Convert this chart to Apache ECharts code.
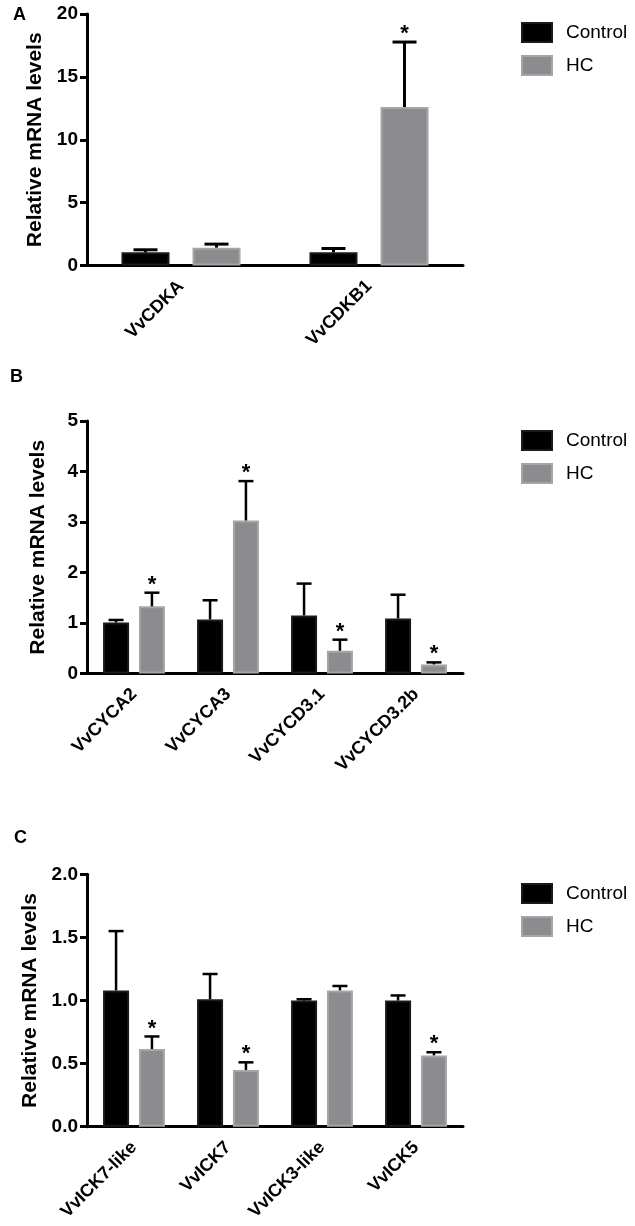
<!DOCTYPE html>
<html>
<head>
<meta charset="utf-8">
<script src="https://cdn.jsdelivr.net/npm/echarts@6/dist/echarts.min.js"></script>
<style>
html,body{margin:0;padding:0;background:#fff;}
#main{width:635px;height:1226px;}
</style>
</head>
<body>
<div id="main"></div>
<script>
// ---------- data ----------
const seriesNames = ['Control', 'HC'];
const panelLetters = ['A', 'B', 'C'];
const yAxisTitle = 'Relative mRNA levels';

const catsA = ['VvCDKA', 'VvCDKB1'];
const controlA = [1.05, 1.05];
const controlErrA = [0.2, 0.3];
const hcA = [1.42, 12.6];
const hcErrA = [0.28, 5.17];
const hcSigA = [0, 1];

const catsB = ['VvCYCA2', 'VvCYCA3', 'VvCYCD3.1', 'VvCYCD3.2b'];
const controlB = [1.01, 1.07, 1.15, 1.09];
const controlErrB = [0.05, 0.38, 0.63, 0.47];
const hcB = [1.33, 3.03, 0.45, 0.18];
const hcErrB = [0.27, 0.78, 0.22, 0.04];
const hcSigB = [1, 1, 1, 1];

const catsC = ['VvICK7-like', 'VvICK7', 'VvICK3-like', 'VvICK5'];
const controlC = [1.08, 1.01, 1.0, 1.0];
const controlErrC = [0.47, 0.2, 0.01, 0.04];
const hcC = [0.615, 0.45, 1.08, 0.565];
const hcErrC = [0.1, 0.06, 0.035, 0.025];
const hcSigC = [1, 1, 0, 1];

const yMaxes = [20, 5, 2];
const yIntervals = [5, 1, 0.5];
const yDecimals = [0, 0, 1];

// ---------- styling / layout ----------
const FONT = 'Liberation Sans, Arial, sans-serif';
const panels = [
  {cats: catsA, ctrl: controlA, ctrlErr: controlErrA, hc: hcA, hcErr: hcErrA, sig: hcSigA,
   top: 14, height: 251.5, barWidth: 48, barGapPct: 48, cap: 24, lw: 3, letterTop: 6, letterLeft: 13, legendTop: 22},
  {cats: catsB, ctrl: controlB, ctrlErr: controlErrB, hc: hcB, hcErr: hcErrB, sig: hcSigB,
   top: 421, height: 252.5, barWidth: 26, barGapPct: 38, cap: 15, lw: 2.5, letterTop: 368, letterLeft: 10, legendTop: 430},
  {cats: catsC, ctrl: controlC, ctrlErr: controlErrC, hc: hcC, hcErr: hcErrC, sig: hcSigC,
   top: 874.3, height: 252.4, barWidth: 26, barGapPct: 38, cap: 15, lw: 2.5, letterTop: 829, letterLeft: 14, legendTop: 883}
];
const ctrlStyle = {color: '#000000', borderColor: '#1a1a1a', borderWidth: 2};
const hcStyle = {color: '#8c8c90', borderColor: '#a6a6a6', borderWidth: 2};

const grids = [], xAxes = [], yAxes = [], series = [], titles = [], legends = [];

panels.forEach((p, i) => {
  grids.push({left: 87, width: 376, top: p.top, height: p.height, containLabel: false});
  titles.push({text: panelLetters[i], left: p.letterLeft, top: p.letterTop, padding: 0,
    textStyle: {fontFamily: FONT, fontWeight: 'bold', fontSize: 18, color: '#000'}});
  legends.push({data: seriesNames, orient: 'vertical', left: 521, top: p.legendTop, padding: 0,
    itemWidth: 30, itemHeight: 19, itemGap: 12, icon: 'rect', selectedMode: false,
    textStyle: {fontFamily: FONT, fontSize: 19, color: '#000', padding: [0, 0, 0, 9]}});
  xAxes.push({type: 'category', gridIndex: i, data: p.cats,
    axisLine: {lineStyle: {color: '#000', width: 3}},
    axisTick: {alignWithLabel: true, length: 7, lineStyle: {color: '#000', width: 3}},
    axisLabel: {rotate: 45, interval: 0, margin: 18, fontFamily: FONT, fontWeight: 'bold', fontSize: 18, color: '#000'}});
  yAxes.push({type: 'value', gridIndex: i, min: 0, max: yMaxes[i], interval: yIntervals[i],
    name: yAxisTitle, nameLocation: 'middle', nameGap: 38, nameRotate: 90,
    nameTextStyle: {fontFamily: FONT, fontWeight: 'bold', fontSize: 21, color: '#000'},
    axisLine: {show: true, lineStyle: {color: '#000', width: 3}},
    axisTick: {show: true, length: 7, lineStyle: {color: '#000', width: 3}},
    splitLine: {show: false},
    axisLabel: {margin: 9, fontFamily: FONT, fontWeight: 'bold', fontSize: 19, color: '#000',
      formatter: v => v.toFixed(yDecimals[i])}});

  const off = (p.barWidth * (1 + p.barGapPct / 100)) / 2;
  series.push({name: 'Control', type: 'bar', xAxisIndex: i, yAxisIndex: i, data: p.ctrl,
    barWidth: p.barWidth, barGap: p.barGapPct + '%', itemStyle: ctrlStyle, z: 2});
  series.push({name: 'HC', type: 'bar', xAxisIndex: i, yAxisIndex: i, data: p.hc,
    barWidth: p.barWidth, barGap: p.barGapPct + '%', itemStyle: hcStyle, z: 2});

  const mkErr = (vals, errs, sigs, dx) => ({
    type: 'custom', xAxisIndex: i, yAxisIndex: i, z: 5, silent: true,
    data: vals.map((v, k) => [k, v, errs[k], sigs ? sigs[k] : 0]),
    encode: {x: 0, y: 1},
    renderItem: (params, api) => {
      const c = api.value(0), v = api.value(1), e = api.value(2), s = api.value(3);
      const b = api.coord([c, v]);
      const t = api.coord([c, v + e]);
      const x = b[0] + dx;
      const children = [
        {type: 'line', shape: {x1: x, y1: b[1], x2: x, y2: t[1]}, style: {stroke: '#000', lineWidth: p.lw}},
        {type: 'line', shape: {x1: x - p.cap / 2, y1: t[1], x2: x + p.cap / 2, y2: t[1]}, style: {stroke: '#000', lineWidth: p.lw}}
      ];
      if (s) {
        children.push({type: 'text', style: {text: '*', x: x, y: t[1] + 3, align: 'center', verticalAlign: 'bottom',
          font: 'bold 22px ' + FONT, fill: '#000'}});
      }
      return {type: 'group', children: children};
    }
  });
  series.push(mkErr(p.ctrl, p.ctrlErr, null, -off));
  series.push(mkErr(p.hc, p.hcErr, p.sig, off));
});

const chart = echarts.init(document.getElementById('main'), null, {renderer: 'canvas'});
chart.setOption({
  animation: false,
  backgroundColor: '#fff',
  title: titles,
  legend: legends,
  grid: grids,
  xAxis: xAxes,
  yAxis: yAxes,
  series: series
});
</script>
</body>
</html>
